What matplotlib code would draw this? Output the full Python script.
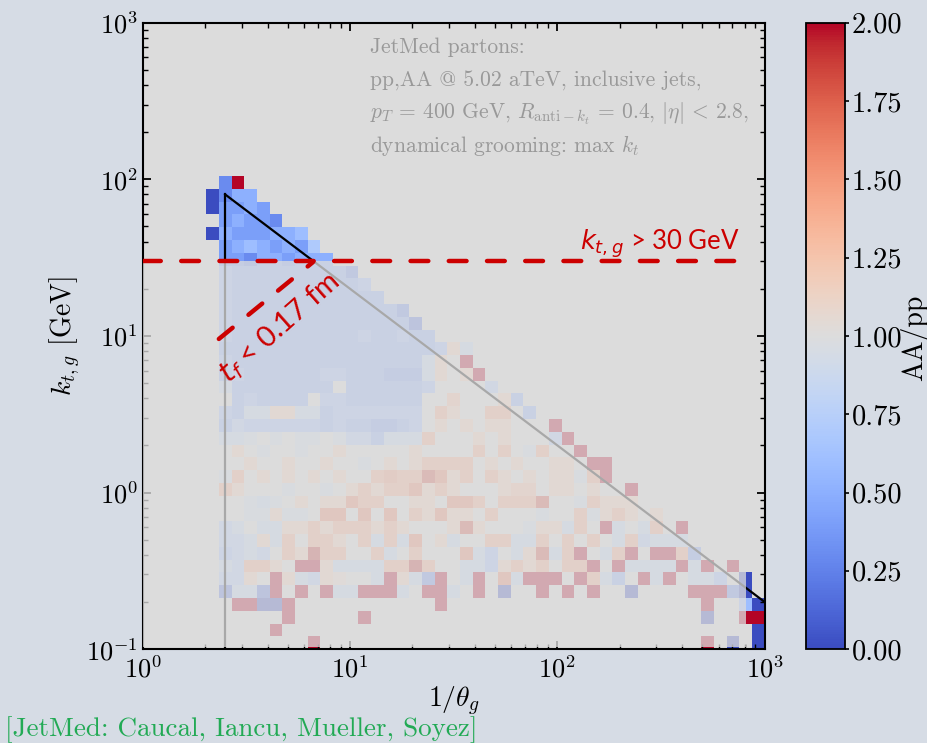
import numpy as np
import matplotlib
matplotlib.use("Agg")
import matplotlib.pyplot as plt
from matplotlib.patches import Rectangle

# ------------------------------------------------------------------ data
x_range = (1.0, 1000.0)          # 1/theta_g
y_range = (0.1, 1000.0)          # k_t,g [GeV]
n_bins = 49                      # log bins per axis
first_col = 5                    # rows below start at column 5
level_chars = "0123456789ABCDEFGHIJK"   # AA/pp = 0.0, 0.1, ... 2.0 ; '.' = empty

# AA/pp per cell, top row (row 36) first down to row 0
ratio_rows = [
    ".3K",
    "0355",
    "04454",
    ".45443",
    "05444556",
    ".45654547",
    ".443554555",
    ".65555555553",
    ".655555555556",
    ".6555555555555",
    ".655555555555553",
    ".6555555555555552",
    ".65555555555655655",
    ".555555555555555556C8",
    ".65555555555555558CAK",
    ".56555555665554448CACK",
    ".855555555A5555556AAAA7",
    ".A565555A66555555AADAAAC5",
    ".6588CC8856666666AECAAEEA5",
    ".5766666656554456ACACACCAAAK",
    ".889A9A99A9775888EAAACACAAA7K",
    ".ACA9AA9AACAAAAACAAAAEAEA9EAAK",
    ".AACAACAACAA9ACACEEEEACACAACCAKK",
    ".9EACACACACAAEFEEIGCEAECACACC9EK",
    ".ECAAA9AA9ACECEEGCECAAACDDACCACA.K",
    ".AA989ACACCGEEAACCAGGEAEEEIAA9ECCC",
    ".AA99C99AGGAGAGAECGCCAEAAA9AAE9CECAC",
    ".78A88CCECEEECECAAACICAAA9CC8EAK8A8E.K",
    ".778C8EAEECAE8E8GAC8AAEE88EAEAEA8E7888",
    ".6787AECJEEAAE8AEAAAG86A8CI8EKA8EKAKKE4",
    ".87EECAKKC8888EEJEAA886CECEAEEKAK8888K8K.K",
    ".77CAKC87CBAA8KC83KA8KAG8KKKAKE85AK8K.886A0",
    ".2882KAK.K88KKK8.KK8.K.0..K.K.K..0....KKK30",
    "..KK00K" "..........." "K" "...................." "K..60",
    "......K" "....." "K" ".........................." "0..KK",
    "....." "K" "....................................." "0",
    "........" "K" ".............................." "K.0.0",
]

kt_cut = 30.0                    # k_t,g > 30 GeV cut
jet_R = 0.4                      # theta_g < R  ->  1/theta_g > 2.5
kt_max_coef = 200.0              # k_t < 200 GeV * theta_g
tf_line_x = [2.33, 6.63]         # t_f < 0.17 fm boundary
tf_line_y = [9.56, 29.6]
hline_x_end = 832.0
shade_x_end = 813.0
shade_y_start = 0.1035

info_lines = [
    "JetMed partons:",
    "pp,AA @ 5.02 aTeV, inclusive jets,",
    r"$p_T\,=\,400$ GeV, $R_{\mathrm{anti}-k_t}\,=\,0.4$, $|\eta|\,<\,2.8$,",
    r"dynamical grooming: max $k_t$",
]
info_baselines = [0.9516, 0.8974, 0.8463, 0.7936]
cbar_ticks = [0.0, 0.25, 0.5, 0.75, 1.0, 1.25, 1.5, 1.75, 2.0]

# ------------------------------------------------------------------ style
plt.rcParams["font.family"] = ["cmr10", "DejaVu Serif"]
plt.rcParams["mathtext.fontset"] = "cm"
plt.rcParams["axes.formatter.use_mathtext"] = True
plt.rcParams["axes.unicode_minus"] = False

fig_bg = "#d6dce5"
ax_bg = "#dcdcdc"
red = "#cc0000"

fig = plt.figure(figsize=(9.28, 7.43), dpi=100, facecolor=fig_bg)
ax = fig.add_axes([142.7 / 928, 1 - 649.1 / 743, (764.6 - 142.7) / 928, (649.1 - 22.7) / 743])
ax.set_facecolor(ax_bg)

xedges = np.logspace(np.log10(x_range[0]), np.log10(x_range[1]), n_bins + 1)
yedges = np.logspace(np.log10(y_range[0]), np.log10(y_range[1]), n_bins + 1)
Z = np.full((n_bins, n_bins), np.nan)
top_row = len(ratio_rows) - 1
for k, row in enumerate(ratio_rows):
    j = top_row - k
    for n, ch in enumerate(row):
        if ch != ".":
            Z[j, first_col + n] = level_chars.index(ch) * 0.1

mesh = ax.pcolormesh(xedges, yedges, np.ma.masked_invalid(Z), cmap="coolwarm",
                     vmin=0, vmax=2, zorder=1)
ax.set_xscale("log")
ax.set_yscale("log")
ax.set_xlim(*x_range)
ax.set_ylim(*y_range)

# kinematic boundaries (drawn black, faded by the shading below)
x_lo = 1 / jet_R
ax.plot([x_lo, x_lo], [y_range[0], kt_max_coef / x_lo], color="k", lw=1.6, zorder=2)
ax.plot([x_lo, x_range[1]], [kt_max_coef / x_lo, kt_max_coef / x_range[1]],
        color="k", lw=1.6, zorder=2)

# shading of the region outside the selection
ax.add_patch(Rectangle((x_range[0], shade_y_start), shade_x_end - x_range[0],
                       kt_cut - shade_y_start, facecolor=ax_bg, edgecolor="none",
                       alpha=0.77, zorder=3))

# red cut lines
ax.plot([x_range[0], hline_x_end], [kt_cut, kt_cut], color=red, lw=3.2,
        dashes=(4.0, 4.6), dash_capstyle="round", zorder=4)
ax.plot(tf_line_x, tf_line_y, color=red, lw=3.2, dashes=(4.0, 4.6),
        dash_capstyle="round", zorder=4)

ax.text(128, 35.5, r"$k_{t,g}$ > 30 GeV", color=red, fontsize=18.5,
        family=["Lato", "DejaVu Sans"], math_fontfamily="dejavusans",
        va="baseline", ha="left", zorder=5)
ax.text(2.6, 4.95, r"$t_f$ < 0.17 fm", color=red, fontsize=21,
        family=["Lato", "DejaVu Sans"], math_fontfamily="dejavusans",
        rotation=41.5, rotation_mode="anchor", va="baseline", ha="left", zorder=5)

for line, yb in zip(info_lines, info_baselines):
    ax.text(0.3655, yb, line, transform=ax.transAxes, color="#999999",
            fontsize=15.5, va="baseline", ha="left", zorder=5)

ax.set_xlabel(r"$1/\theta_g$", fontsize=20, labelpad=1)
ax.set_ylabel(r"$k_{t,g}$ [GeV]", fontsize=20, labelpad=3)

for s in ax.spines.values():
    s.set_linewidth(1.5)
ax.tick_params(which="both", direction="in", top=True, right=True, labelsize=19)
ax.tick_params(which="major", length=6, width=1.3)
ax.tick_params(which="minor", length=3.5, width=1.0)
ax.tick_params(axis="x", pad=5)

cax = fig.add_axes([806 / 928, 1 - 649.1 / 743, 39 / 928, (649.1 - 22.7) / 743])
cb = fig.colorbar(mesh, cax=cax, ticks=cbar_ticks, format="%.2f")
cb.outline.set_linewidth(1.3)
cax.tick_params(labelsize=20.5, length=3, width=1.2, pad=2)
fig.text(0.9855, 0.545, "AA/pp", rotation=90, fontsize=20, ha="center", va="center")

fig.text(0.005, 0.0, "[JetMed: Caucal, Iancu, Mueller, Soyez]", color="#22aa55",
         fontsize=19.5, ha="left", va="bottom")

fig.savefig("out.png", dpi=100, facecolor=fig_bg)
